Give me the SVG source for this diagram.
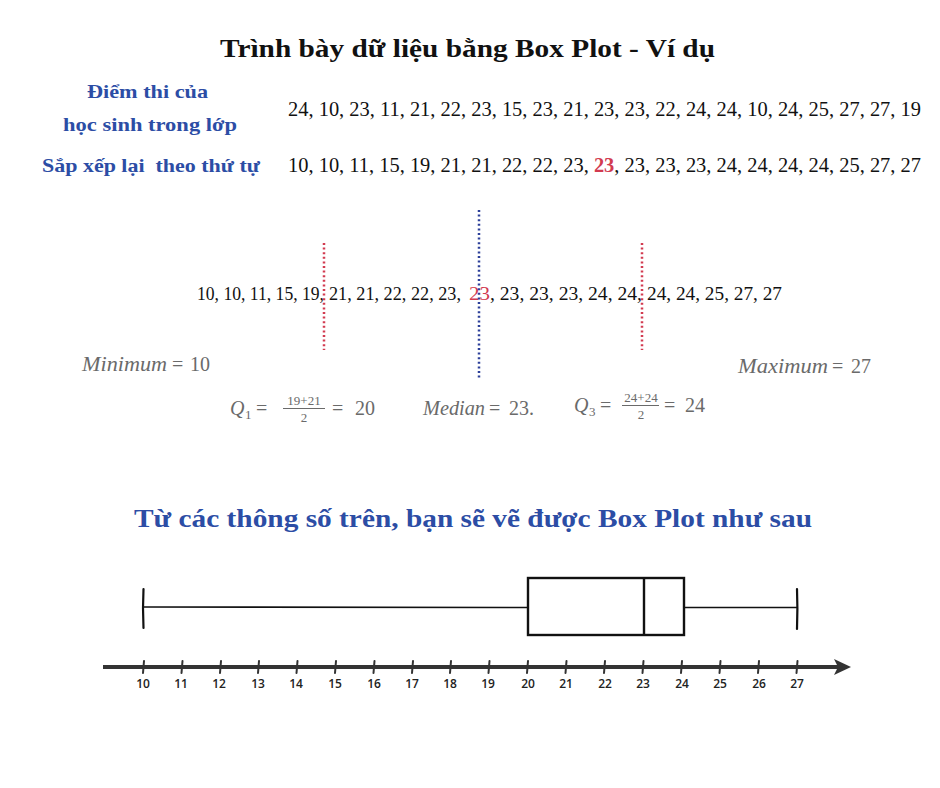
<svg xmlns="http://www.w3.org/2000/svg" width="940" height="788" viewBox="0 0 940 788">
<style>
.title{font-family:"Liberation Serif","DejaVu Serif",serif;font-weight:bold;font-size:26px;fill:#111}
.lbl{font-family:"Liberation Serif","DejaVu Serif",serif;font-weight:bold;font-size:19px;fill:#2c4da5}
.num{font-family:"Liberation Serif","DejaVu Serif",serif;font-size:20px;fill:#111}
.mid{font-family:"Liberation Serif","DejaVu Serif",serif;font-size:19px;fill:#111}
.red{fill:#d23b50}
.mi{font-family:"Liberation Serif","DejaVu Serif",serif;font-style:italic;font-size:20px;fill:#6a6a6a}
.mr{font-family:"Liberation Serif","DejaVu Serif",serif;font-size:20px;fill:#6a6a6a}
.ms{font-family:"Liberation Serif","DejaVu Serif",serif;font-size:13px;fill:#6a6a6a}
.sub{font-family:"Liberation Serif","DejaVu Serif",serif;font-weight:bold;font-size:26px;fill:#2c4da5}
.dotr{stroke:#d23b50;stroke-width:2.5;stroke-dasharray:2 2.6;fill:none}
.dotb{stroke:#2c3f99;stroke-width:2.5;stroke-dasharray:2 2.6;fill:none}
.pen{stroke:#111;fill:none;stroke-linecap:round}
.tick{stroke:#333;stroke-width:2;stroke-linecap:round}
.tl{font-family:"Open Sans","DejaVu Sans",sans-serif;font-weight:600;font-size:12px;fill:#222;text-anchor:middle}
</style>
<rect width="940" height="788" fill="#ffffff"/>

<g id="title">
<text class="title" x="220" y="57" textLength="495" lengthAdjust="spacingAndGlyphs">Trình bày dữ liệu bằng Box Plot - Ví dụ</text>
</g>

<g id="row-raw">
<text class="lbl" x="87" y="98" textLength="121" lengthAdjust="spacingAndGlyphs">Điểm thi của</text>
<text class="lbl" x="63" y="131" textLength="174" lengthAdjust="spacingAndGlyphs">học sinh trong lớp</text>
<text class="num" x="288" y="116" textLength="633" lengthAdjust="spacingAndGlyphs">24, 10, 23, 11, 21, 22, 23, 15, 23, 21, 23, 23, 22, 24, 24, 10, 24, 25, 27, 27, 19</text>
</g>

<g id="row-sorted">
<text class="lbl" x="42" y="172" textLength="218" lengthAdjust="spacingAndGlyphs">Sắp xếp lại&#160; theo thứ tự</text>
<text class="num" x="288" y="172" textLength="633" lengthAdjust="spacingAndGlyphs">10, 10, 11, 15, 19, 21, 21, 22, 22, 23, <tspan class="red" font-weight="bold">23</tspan>, 23, 23, 23, 24, 24, 24, 24, 25, 27, 27</text>
</g>

<g id="row-split">
<text class="mid" x="197" y="300" textLength="127" lengthAdjust="spacingAndGlyphs">10, 10, 11, 15, 19,</text>
<text class="mid" x="329" y="300" textLength="132" lengthAdjust="spacingAndGlyphs">21, 21, 22, 22, 23,</text>
<text class="mid red" x="469" y="300" textLength="21" lengthAdjust="spacingAndGlyphs">23</text>
<text class="mid" x="490" y="300" textLength="152" lengthAdjust="spacingAndGlyphs">, 23, 23, 23, 24, 24,</text>
<text class="mid" x="647" y="300" textLength="135" lengthAdjust="spacingAndGlyphs">24, 24, 25, 27, 27</text>
</g>

<g id="connectors">
<line class="dotr" x1="324" y1="243" x2="324" y2="350"/>
<line class="dotb" x1="479" y1="210" x2="479" y2="380"/>
<line class="dotr" x1="642" y1="243" x2="642" y2="350"/>
</g>

<g id="minimum">
<text class="mi" x="82" y="371" textLength="85" lengthAdjust="spacingAndGlyphs">Minimum</text>
<text class="mr" x="172" y="371">=</text>
<text class="mr" x="190" y="371">10</text>
</g>

<g id="maximum">
<text class="mi" x="738" y="373" textLength="90" lengthAdjust="spacingAndGlyphs">Maximum</text>
<text class="mr" x="832" y="373">=</text>
<text class="mr" x="851" y="373">27</text>
</g>

<g id="q1">
<text class="mi" x="230" y="415">Q</text>
<text class="ms" x="245" y="419">1</text>
<text class="mr" x="256" y="415">=</text>
<text class="ms" x="304" y="405" text-anchor="middle">19+21</text>
<line x1="283" y1="408.5" x2="325" y2="408.5" stroke="#6a6a6a" stroke-width="1"/>
<text class="ms" x="304" y="422" text-anchor="middle">2</text>
<text class="mr" x="332" y="415">=</text>
<text class="mr" x="355" y="415">20</text>
</g>

<g id="median">
<text class="mi" x="423" y="415" textLength="62" lengthAdjust="spacingAndGlyphs">Median</text>
<text class="mr" x="489" y="415">=</text>
<text class="mr" x="509" y="415">23.</text>
</g>

<g id="q3">
<text class="mi" x="574" y="412">Q</text>
<text class="ms" x="589" y="416">3</text>
<text class="mr" x="600" y="412">=</text>
<text class="ms" x="641" y="402" text-anchor="middle">24+24</text>
<line x1="622" y1="405.5" x2="659" y2="405.5" stroke="#6a6a6a" stroke-width="1"/>
<text class="ms" x="641" y="419" text-anchor="middle">2</text>
<text class="mr" x="664" y="412">=</text>
<text class="mr" x="685" y="412">24</text>
</g>

<g id="subtitle">
<text class="sub" x="134" y="527" textLength="678" lengthAdjust="spacingAndGlyphs">Từ các thông số trên, bạn sẽ vẽ được Box Plot như sau</text>
</g>

<g id="boxplot">
<path class="pen" stroke-width="2.2" d="M143.5 589 Q142.5 608 143.5 628"/>
<path class="pen" stroke-width="1.6" d="M144 607 L528 607.5"/>
<rect x="528" y="578" width="156" height="57" fill="none" stroke="#111" stroke-width="2.4"/>
<line x1="644" y1="578" x2="644" y2="635" stroke="#111" stroke-width="2.4"/>
<path class="pen" stroke-width="1.6" d="M684 607.5 L797 607.5"/>
<path class="pen" stroke-width="2.2" d="M797 589 Q797.8 608 797 629"/>
</g>

<g id="axis">
<line x1="103" y1="667" x2="838" y2="667" stroke="#333" stroke-width="4"/>
<path d="M834 659 L851 667 L834 675 L838 667 Z" fill="#333"/>
<line class="tick" x1="144" y1="661" x2="143" y2="673"/>
<line class="tick" x1="182.5" y1="661" x2="181.5" y2="673"/>
<line class="tick" x1="221" y1="661" x2="220" y2="673"/>
<line class="tick" x1="259" y1="661" x2="258" y2="673"/>
<line class="tick" x1="297.5" y1="661" x2="296.5" y2="673"/>
<line class="tick" x1="336" y1="661" x2="335" y2="673"/>
<line class="tick" x1="374.5" y1="661" x2="373.5" y2="673"/>
<line class="tick" x1="413" y1="661" x2="412" y2="673"/>
<line class="tick" x1="451" y1="661" x2="450" y2="673"/>
<line class="tick" x1="489.5" y1="661" x2="488.5" y2="673"/>
<line class="tick" x1="528" y1="661" x2="527" y2="673"/>
<line class="tick" x1="566.5" y1="661" x2="565.5" y2="673"/>
<line class="tick" x1="605" y1="661" x2="604" y2="673"/>
<line class="tick" x1="643.5" y1="661" x2="642.5" y2="673"/>
<line class="tick" x1="682" y1="661" x2="681" y2="673"/>
<line class="tick" x1="720.5" y1="661" x2="719.5" y2="673"/>
<line class="tick" x1="759" y1="661" x2="758" y2="673"/>
<line class="tick" x1="797.5" y1="661" x2="796.5" y2="673"/>
<text class="tl" x="143" y="688">10</text>
<text class="tl" x="181" y="688">11</text>
<text class="tl" x="219" y="688">12</text>
<text class="tl" x="258" y="688">13</text>
<text class="tl" x="296" y="688">14</text>
<text class="tl" x="335" y="688">15</text>
<text class="tl" x="374" y="688">16</text>
<text class="tl" x="412" y="688">17</text>
<text class="tl" x="450" y="688">18</text>
<text class="tl" x="488" y="688">19</text>
<text class="tl" x="528" y="688">20</text>
<text class="tl" x="566" y="688">21</text>
<text class="tl" x="605" y="688">22</text>
<text class="tl" x="643" y="688">23</text>
<text class="tl" x="682" y="688">24</text>
<text class="tl" x="720" y="688">25</text>
<text class="tl" x="759" y="688">26</text>
<text class="tl" x="797" y="688">27</text>
</g>
</svg>
